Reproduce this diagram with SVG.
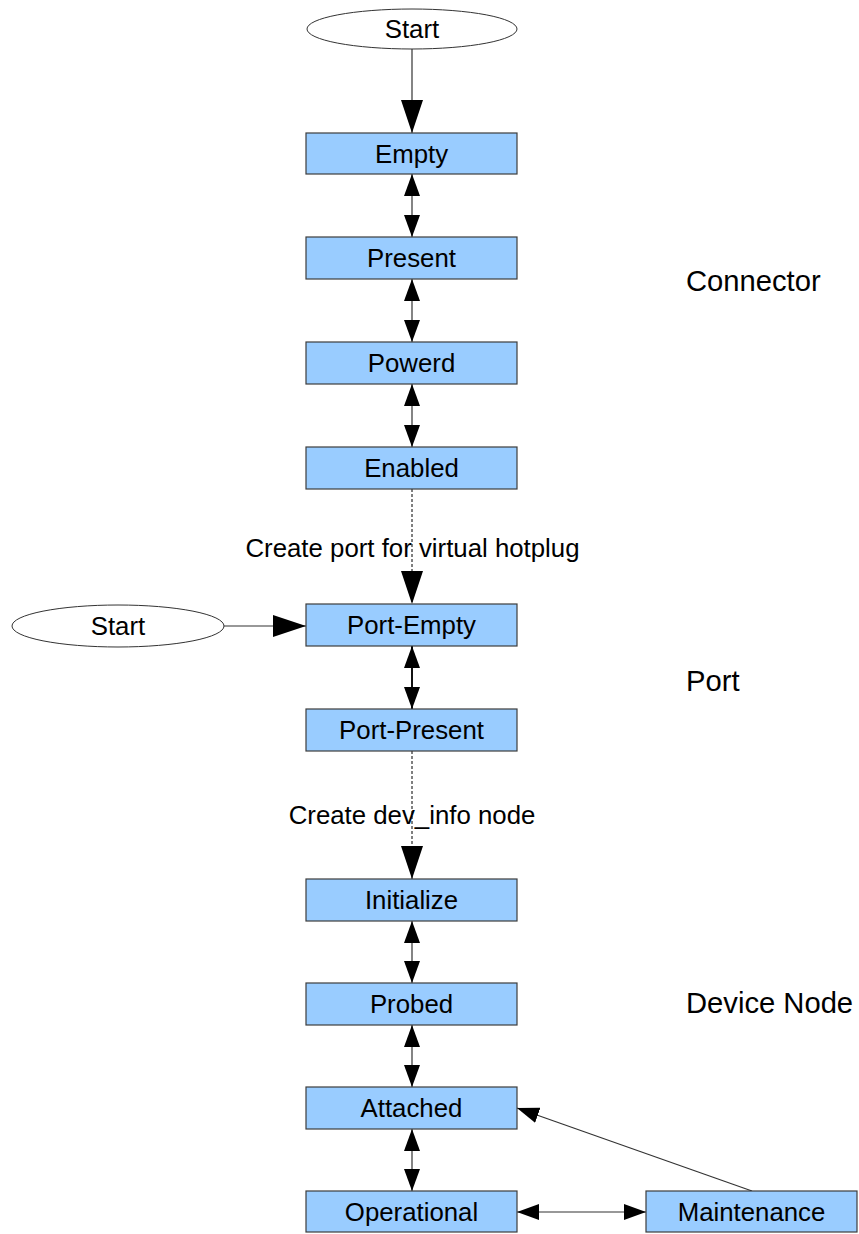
<svg xmlns="http://www.w3.org/2000/svg" width="859" height="1234" viewBox="0 0 859 1234">
  <style>
    .box { fill: #99ccff; stroke: #3c3c3c; stroke-width: 1.2; }
    .oval { fill: #ffffff; stroke: #333333; stroke-width: 1; }
    .lbl { font-family: "Liberation Sans", Arial, sans-serif; font-size: 25.8px; fill: #000000; text-anchor: middle; }
    .side { font-family: "Liberation Sans", Arial, sans-serif; font-size: 29.2px; fill: #000000; }
    .edge { fill: none; stroke: #333333; stroke-width: 1.2; }
    .dash { stroke: #000000; stroke-dasharray: 3 2; stroke-width: 1; }
    .thick { stroke-width: 2; stroke: #111111; }
  </style>
  <defs>
    <marker id="big" markerUnits="userSpaceOnUse" markerWidth="33" markerHeight="22" refX="33" refY="11" orient="auto-start-reverse">
      <path d="M0,0 L33,11 L0,22 z" fill="#000000"/>
    </marker>
    <marker id="small" markerUnits="userSpaceOnUse" markerWidth="22" markerHeight="16" refX="22" refY="8" orient="auto-start-reverse">
      <path d="M0,0 L22,8 L0,16 z" fill="#000000"/>
    </marker>
  </defs>

  <!-- transitions -->
  <g id="connectors">
    <line class="edge" x1="412" y1="49" x2="412" y2="133" marker-end="url(#big)"/>
    <line class="edge" x1="412" y1="174" x2="412" y2="237" marker-start="url(#small)" marker-end="url(#small)"/>
    <line class="edge" x1="412" y1="279" x2="412" y2="342" marker-start="url(#small)" marker-end="url(#small)"/>
    <line class="edge" x1="412" y1="384" x2="412" y2="447" marker-start="url(#small)" marker-end="url(#small)"/>
    <line class="edge dash" x1="412" y1="489" x2="412" y2="604" marker-end="url(#big)"/>
    <line class="edge" x1="223" y1="626" x2="306" y2="626" marker-end="url(#big)"/>
    <line class="edge thick" x1="412" y1="646" x2="412" y2="709" marker-start="url(#small)" marker-end="url(#small)"/>
    <line class="edge dash" x1="412" y1="751" x2="412" y2="879" marker-end="url(#big)"/>
    <line class="edge" x1="412" y1="921" x2="412" y2="983" marker-start="url(#small)" marker-end="url(#small)"/>
    <line class="edge" x1="412" y1="1025" x2="412" y2="1087" marker-start="url(#small)" marker-end="url(#small)"/>
    <line class="edge" x1="412" y1="1129" x2="412" y2="1191" marker-start="url(#small)" marker-end="url(#small)"/>
    <line class="edge" x1="517" y1="1212" x2="646" y2="1212" marker-start="url(#small)" marker-end="url(#small)"/>
    <line class="edge" x1="752" y1="1191" x2="517" y2="1108" marker-end="url(#small)"/>
    <text class="lbl" x="412.5" y="557">Create port for virtual hotplug</text>
    <text class="lbl" x="412" y="824">Create dev_info node</text>
  </g>

  <!-- start points -->
  <g id="start-connector">
    <ellipse class="oval" cx="412" cy="29" rx="105" ry="20"/>
    <text class="lbl" x="412" y="38">Start</text>
  </g>
  <g id="start-port">
    <ellipse class="oval" cx="118" cy="626" rx="106" ry="21"/>
    <text class="lbl" x="118" y="635">Start</text>
  </g>

  <!-- connector states -->
  <g id="empty">
    <rect class="box" x="306" y="133" width="211" height="41"/>
    <text class="lbl" x="411.5" y="162.5">Empty</text>
  </g>
  <g id="present">
    <rect class="box" x="306" y="237" width="211" height="42"/>
    <text class="lbl" x="411.5" y="267">Present</text>
  </g>
  <g id="powerd">
    <rect class="box" x="306" y="342" width="211" height="42"/>
    <text class="lbl" x="411.5" y="372">Powerd</text>
  </g>
  <g id="enabled">
    <rect class="box" x="306" y="447" width="211" height="42"/>
    <text class="lbl" x="411.5" y="477">Enabled</text>
  </g>

  <!-- port states -->
  <g id="port-empty">
    <rect class="box" x="306" y="604" width="211" height="42"/>
    <text class="lbl" x="411.5" y="634">Port-Empty</text>
  </g>
  <g id="port-present">
    <rect class="box" x="306" y="709" width="211" height="42"/>
    <text class="lbl" x="411.5" y="739">Port-Present</text>
  </g>

  <!-- device node states -->
  <g id="initialize">
    <rect class="box" x="306" y="879" width="211" height="42"/>
    <text class="lbl" x="411.5" y="909">Initialize</text>
  </g>
  <g id="probed">
    <rect class="box" x="306" y="983" width="211" height="42"/>
    <text class="lbl" x="411.5" y="1013">Probed</text>
  </g>
  <g id="attached">
    <rect class="box" x="306" y="1087" width="211" height="42"/>
    <text class="lbl" x="411.5" y="1117">Attached</text>
  </g>
  <g id="operational">
    <rect class="box" x="306" y="1191" width="211" height="41"/>
    <text class="lbl" x="411.5" y="1220.5">Operational</text>
  </g>
  <g id="maintenance">
    <rect class="box" x="646" y="1191" width="211" height="41"/>
    <text class="lbl" x="751.5" y="1220.5">Maintenance</text>
  </g>

  <!-- group captions -->
  <g id="captions">
    <text class="side" x="686" y="291">Connector</text>
    <text class="side" x="686" y="691">Port</text>
    <text class="side" x="686" y="1013">Device Node</text>
  </g>
</svg>
